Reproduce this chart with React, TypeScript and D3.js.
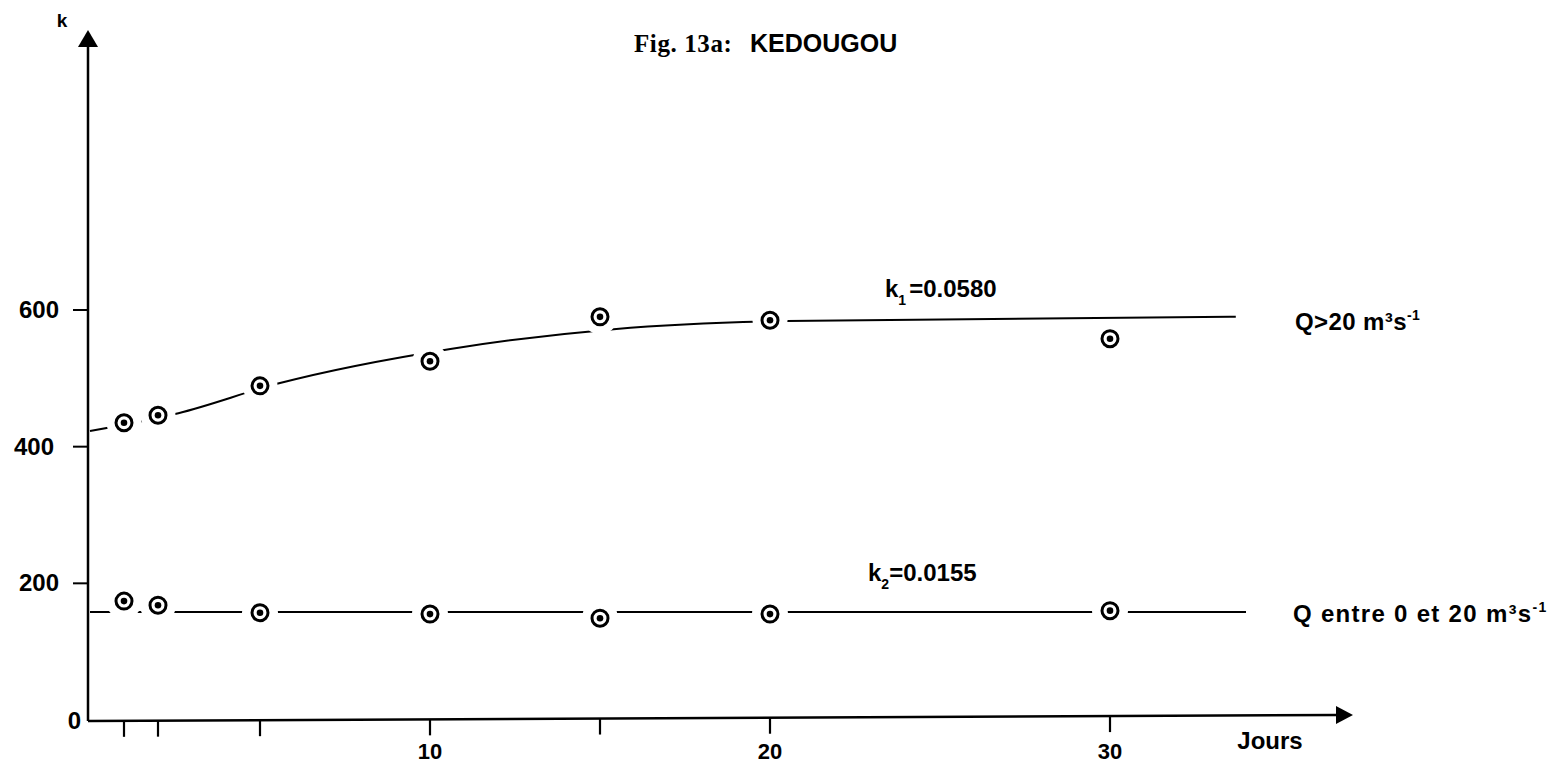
import React from "react";
import * as d3 from "d3";

const days = [1, 2, 5, 10, 15, 20, 30];
const kHigh = [435, 446, 489, 525, 590, 585, 558];
const kLow = [174, 168, 157, 155, 149, 155, 160];

const fitHighDays = [0, 2.6, 5.5, 10.6, 15.4, 20.5, 33.7];
const fitHighK = [423, 449, 492, 543, 572, 584, 590];
const fitLowDays = [0, 34];
const fitLowK = [158, 158];

const xTicks = [1, 2, 5, 10, 15, 20, 30];
const xTickLabels = ["", "", "", "10", "", "20", "30"];
const yTicks = [0, 200, 400, 600];

const W = 1557;
const H = 767;

export default function App() {
  const x = d3.scaleLinear().domain([0, 30]).range([90, 1110]);
  const y = d3.scaleLinear().domain([0, 600]).range([720, 310]);
  const sans = "'Liberation Sans', Arial, sans-serif";
  const serif = "'Liberation Serif', 'Times New Roman', serif";

  const line = d3
    .line<[number, number]>()
    .x((d) => x(d[0]))
    .y((d) => y(d[1]))
    .curve(d3.curveMonotoneX);

  const highPath = line(fitHighDays.map((d, i) => [d, fitHighK[i]]) as [number, number][]) || "";
  const lowPath = line(fitLowDays.map((d, i) => [d, fitLowK[i]]) as [number, number][]) || "";

  const axisX0 = 88;
  const axisY0 = y(0) + 1;
  const xEnd = 1337;
  const fs = 24;

  const marker = (cx: number, cy: number, key: string) => (
    <g key={key}>
      <circle cx={cx} cy={cy} r={8} fill="#fff" stroke="#000" strokeWidth={3} />
      <circle cx={cx} cy={cy} r={3.3} fill="#000" />
    </g>
  );

  return (
    <svg
      width={W}
      height={H}
      style={{ position: "absolute", left: 0, top: 0, background: "#fff" }}
    >
      <rect x={0} y={0} width={W} height={H} fill="#fff" />
      {/* title */}
      <text x={634} y={52} fontFamily={serif} fontWeight="bold" fontSize={25} fill="#000" letterSpacing={0.6}>
        Fig. 13a:
      </text>
      <text x={750} y={52} fontFamily={sans} fontWeight="bold" fontSize={25} fill="#000">
        KEDOUGOU
      </text>

      {/* y axis */}
      <line x1={axisX0} y1={axisY0} x2={axisX0} y2={46} stroke="#000" strokeWidth={2.5} />
      <path d={`M${axisX0},30 L${axisX0 - 10},47 L${axisX0 + 10},47 Z`} fill="#000" />
      <text x={62} y={27} fontFamily={sans} fontWeight="bold" fontSize={19} textAnchor="middle">
        k
      </text>
      {yTicks.map((t) => (
        <g key={"yt" + t}>
          {t > 0 && (
            <line x1={73} x2={axisX0} y1={y(t)} y2={y(t)} stroke="#000" strokeWidth={2} />
          )}
          <text
            x={t === 0 ? 81 : t === 400 ? 54 : 59}
            y={y(t) + (t === 0 ? 9 : 8)}
            fontFamily={sans}
            fontWeight="bold"
            fontSize={fs}
            textAnchor="end"
          >
            {t}
          </text>
        </g>
      ))}

      {/* x axis */}
      <line x1={axisX0} y1={axisY0} x2={xEnd} y2={axisY0 - 6} stroke="#000" strokeWidth={2.5} />
      <path
        d={`M${xEnd + 16},${axisY0 - 6} L${xEnd - 1},${axisY0 - 15} L${xEnd - 1},${axisY0 + 3} Z`}
        fill="#000"
      />
      {xTicks.map((t, i) => {
        const ty = axisY0 - (6 * (x(t) - axisX0)) / (xEnd - axisX0);
        return (
          <g key={"xt" + t}>
            <line x1={x(t)} x2={x(t)} y1={ty} y2={ty + 16} stroke="#000" strokeWidth={2.2} />
            {xTickLabels[i] && (
              <text
                x={x(t)}
                y={759}
                fontFamily={sans}
                fontWeight="bold"
                fontSize={22}
                textAnchor="middle"
              >
                {xTickLabels[i]}
              </text>
            )}
          </g>
        );
      })}
      <text x={1270} y={749} fontFamily={sans} fontWeight="bold" fontSize={fs} textAnchor="middle">
        Jours
      </text>

      {/* fitted lines */}
      <path d={highPath} fill="none" stroke="#000" strokeWidth={2} />
      <path d={lowPath} fill="none" stroke="#000" strokeWidth={2} />

      {/* halos that break the lines around the points */}
      {days.map((d, i) => (
        <circle key={"hh" + i} cx={x(d)} cy={y(kHigh[i])} r={17.5} fill="#fff" />
      ))}
      {days.map((d, i) => (
        <circle key={"hl" + i} cx={x(d)} cy={y(kLow[i])} r={18} fill="#fff" />
      ))}

      {/* points */}
      {days.map((d, i) => marker(x(d), y(kHigh[i]), "ph" + i))}
      {days.map((d, i) => marker(x(d), y(kLow[i]), "pl" + i))}

      {/* labels */}
      <text x={885} y={297} fontFamily={sans} fontWeight="bold" fontSize={fs}>
        k<tspan fontSize={14} dy={8}>1</tspan>
        <tspan dy={-8} dx={3}>=0.0580</tspan>
      </text>
      <text x={868} y={581} fontFamily={sans} fontWeight="bold" fontSize={fs}>
        k<tspan fontSize={14} dy={8}>2</tspan>
        <tspan dy={-8} dx={0}>=0.0155</tspan>
      </text>
      <text x={1295} y={330} fontFamily={sans} fontWeight="bold" fontSize={fs} letterSpacing={0.4}>
        Q&gt;20 m³s<tspan fontSize={14} dy={-10}>-1</tspan>
      </text>
      <text x={1293} y={622} fontFamily={sans} fontWeight="bold" fontSize={fs} letterSpacing={1.3}>
        Q entre 0 et 20 m³s<tspan fontSize={14} dy={-10}>-1</tspan>
      </text>
    </svg>
  );
}
